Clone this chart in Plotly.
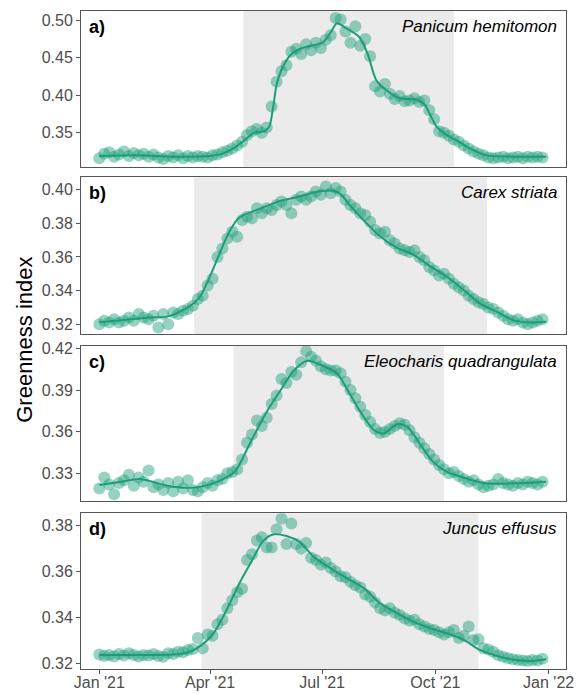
import plotly.graph_objects as go
import pandas as pd

FONT = "Liberation Sans, Arial, Helvetica, sans-serif"
GREEN = "#1b9e77"

# ---- observation dates (every 4 days from 1 Jan 2021) ----
point_dates = pd.date_range("2021-01-01", periods=91, freq="4D")

# ---- panel a: Panicum hemitomon ----
vals_a = [0.316, 0.322, 0.324, 0.318, 0.321, 0.325, 0.319, 0.323, 0.320, 0.322,
          0.318, 0.321, 0.317, 0.315, 0.319, 0.317, 0.320, 0.316, 0.319, 0.317,
          0.319, 0.318, 0.317, 0.320, 0.321, 0.324, 0.326, 0.329, 0.333, 0.338,
          0.347, 0.352, 0.355, 0.350, 0.357, 0.385, 0.418, 0.432, 0.440, 0.458,
          0.462, 0.455, 0.468, 0.460, 0.470, 0.463, 0.474, 0.480, 0.503, 0.501,
          0.485, 0.470, 0.492, 0.466, 0.475, 0.452, 0.412, 0.405, 0.415, 0.402,
          0.395, 0.399, 0.392, 0.393, 0.396, 0.391, 0.393, 0.380, 0.368, 0.352,
          0.350, 0.346, 0.341, 0.338, 0.333, 0.329, 0.325, 0.322, 0.320, 0.317,
          0.316, 0.317, 0.318, 0.316, 0.317, 0.318, 0.316, 0.318, 0.317, 0.318,
          0.317]
line_days_a = [0, 30, 60, 90, 100, 110, 118, 126, 134, 138, 141, 144, 148, 155,
               163, 172, 182, 188, 193, 200, 211, 218, 225, 233, 244, 258, 264,
               274, 282, 290, 301, 314, 336, 363]
line_vals_a = [0.319, 0.320, 0.318, 0.319, 0.322, 0.330, 0.340, 0.350, 0.352,
               0.358, 0.382, 0.414, 0.434, 0.453, 0.462, 0.466, 0.471, 0.484,
               0.496, 0.490, 0.478, 0.455, 0.420, 0.407, 0.396, 0.394, 0.388,
               0.358, 0.347, 0.340, 0.329, 0.320, 0.318, 0.318]

# ---- panel b: Carex striata ----
vals_b = [0.320, 0.322, 0.321, 0.323, 0.321, 0.322, 0.324, 0.322, 0.326, 0.324,
          0.323, 0.325, 0.318, 0.326, 0.320, 0.327, 0.326, 0.328, 0.329, 0.331,
          0.335, 0.337, 0.343, 0.347, 0.360, 0.365, 0.371, 0.375, 0.372, 0.382,
          0.384, 0.383, 0.389, 0.386, 0.389, 0.388, 0.391, 0.393, 0.391, 0.386,
          0.394, 0.396, 0.394, 0.396, 0.399, 0.397, 0.402, 0.398, 0.401, 0.399,
          0.394, 0.391, 0.389, 0.386, 0.385, 0.381, 0.376, 0.374, 0.375, 0.370,
          0.368, 0.365, 0.364, 0.363, 0.364, 0.360, 0.358, 0.354, 0.352, 0.349,
          0.350, 0.347, 0.344, 0.342, 0.340, 0.337, 0.335, 0.333, 0.332, 0.330,
          0.329, 0.327, 0.325, 0.323, 0.322, 0.323, 0.321, 0.320, 0.321, 0.322,
          0.323]
line_days_b = [0, 20, 41, 55, 66, 77, 82, 90, 98, 106, 114, 130, 147, 163, 174,
               190, 196, 204, 214, 228, 242, 255, 269, 282, 296, 309, 323, 336,
               350, 363]
line_vals_b = [0.3212, 0.3225, 0.3240, 0.3245, 0.3276, 0.3326, 0.3366, 0.3486,
               0.3626, 0.3756, 0.3836, 0.3886, 0.3934, 0.3960, 0.3984, 0.3994,
               0.3974, 0.3904, 0.3824, 0.3724, 0.3654, 0.3614, 0.3544, 0.3484,
               0.3404, 0.3324, 0.3274, 0.3224, 0.3210, 0.3214]

# ---- panel c: Eleocharis quadrangulata ----
vals_c = [0.319, 0.327, 0.322, 0.315, 0.323, 0.325, 0.329, 0.321, 0.327, 0.324,
          0.332, 0.320, 0.322, 0.318, 0.323, 0.317, 0.324, 0.319, 0.325, 0.318,
          0.317, 0.320, 0.323, 0.321, 0.325, 0.326, 0.330, 0.331, 0.333, 0.340,
          0.352, 0.358, 0.368, 0.364, 0.370, 0.380, 0.386, 0.398, 0.395, 0.403,
          0.401, 0.410, 0.418, 0.414, 0.411, 0.407, 0.405, 0.404, 0.404, 0.402,
          0.396, 0.390, 0.384, 0.378, 0.372, 0.367, 0.362, 0.359, 0.360, 0.362,
          0.364, 0.366, 0.365, 0.361, 0.356, 0.352, 0.348, 0.344, 0.340, 0.336,
          0.333, 0.330, 0.331, 0.328, 0.326, 0.324, 0.325, 0.322, 0.320, 0.321,
          0.322, 0.326, 0.323, 0.322, 0.321, 0.323, 0.322, 0.324, 0.323, 0.322,
          0.324]
line_days_c = [0, 15, 33, 45, 55, 77, 96, 110, 123, 136, 150, 158, 169, 180, 193,
               201, 212, 223, 231, 242, 250, 261, 271, 282, 298, 314, 336, 363]
line_vals_c = [0.3216, 0.3235, 0.3259, 0.3235, 0.3211, 0.3197, 0.3240, 0.3312,
               0.3528, 0.3744, 0.3936, 0.4040, 0.4110, 0.4080, 0.4020, 0.3910,
               0.3744, 0.3612, 0.3588, 0.3653, 0.3636, 0.3504, 0.3384, 0.3312,
               0.3264, 0.3228, 0.3228, 0.3240]

# ---- panel d: Juncus effusus ----
vals_d = [0.3238, 0.3232, 0.3236, 0.3230, 0.3240, 0.3234, 0.3244, 0.3236, 0.3230,
          0.3236, 0.3234, 0.3240, 0.3232, 0.3228, 0.3244, 0.3240, 0.3250, 0.3248,
          0.3258, 0.3262, 0.3310, 0.3265, 0.3325, 0.3320, 0.3370, 0.3390, 0.3440,
          0.3475, 0.3510, 0.3525, 0.3650, 0.3675, 0.3735, 0.3750, 0.3705, 0.3705,
          0.3785, 0.3830, 0.3720, 0.3810, 0.3720, 0.3700, 0.3725, 0.3660, 0.3650,
          0.3630, 0.3640, 0.3615, 0.3600, 0.3580, 0.3575, 0.3555, 0.3540, 0.3530,
          0.3500, 0.3490, 0.3465, 0.3440, 0.3430, 0.3440, 0.3420, 0.3410, 0.3395,
          0.3385, 0.3390, 0.3370, 0.3360, 0.3350, 0.3345, 0.3335, 0.3325, 0.3335,
          0.3345, 0.3310, 0.3320, 0.3360, 0.3300, 0.3305, 0.3265, 0.3260, 0.3250,
          0.3235, 0.3228, 0.3222, 0.3218, 0.3214, 0.3212, 0.3210, 0.3214, 0.3212,
          0.3220]
line_days_d = [0, 30, 60, 71, 82, 93, 103, 114, 123, 133, 141, 152, 163, 174, 188,
               201, 215, 228, 242, 255, 269, 282, 296, 309, 323, 337, 350, 363]
line_vals_d = [0.3236, 0.3236, 0.3238, 0.3246, 0.3275, 0.3333, 0.3428, 0.3551,
               0.3638, 0.3733, 0.3762, 0.3755, 0.3728, 0.3665, 0.3614, 0.3571,
               0.3527, 0.3462, 0.3418, 0.3382, 0.3353, 0.3331, 0.3302, 0.3258,
               0.3232, 0.3215, 0.3210, 0.3218]

# ---- panel metadata ----
labels = ["a)", "b)", "c)", "d)"]
species = ["Panicum hemitomon", "Carex striata", "Eleocharis quadrangulata", "Juncus effusus"]
season_start = ["2021-04-28", "2021-03-19", "2021-04-20", "2021-03-25"]
season_end = ["2021-10-16", "2021-11-12", "2021-10-08", "2021-11-05"]
y_ticks = [[0.35, 0.40, 0.45, 0.50],
           [0.32, 0.34, 0.36, 0.38, 0.40],
           [0.33, 0.36, 0.39, 0.42],
           [0.32, 0.34, 0.36, 0.38]]
y_ranges = [[0.3046, 0.5124], [0.3140, 0.4074], [0.3103, 0.4217], [0.3175, 0.3854]]
x_ticks = ["2021-01-01", "2021-04-01", "2021-07-01", "2021-10-01", "2022-01-01"]
x_ticklabels = ["Jan '21", "Apr '21", "Jul '21", "Oct '21", "Jan '22"]

all_vals = [vals_a, vals_b, vals_c, vals_d]
all_line_days = [line_days_a, line_days_b, line_days_c, line_days_d]
all_line_vals = [line_vals_a, line_vals_b, line_vals_c, line_vals_d]

# domains in paper coordinates (top to bottom)
domains = [[0.7634, 1.0], [0.5087, 0.7472], [0.2558, 0.4909], [0.0, 0.2366]]
x_range = ["2020-12-17 03:00", "2022-01-15 02:00"]

fig = go.Figure()
base = pd.Timestamp("2021-01-01")
shapes = []
annotations = []
for i in range(4):
    n = "" if i == 0 else str(i + 1)
    xa, ya = "x" + n, "y" + n
    fig.add_trace(go.Scatter(
        x=point_dates, y=all_vals[i], mode="markers", xaxis=xa, yaxis=ya,
        marker=dict(size=12, color=GREEN, opacity=0.45, line=dict(width=0)),
        showlegend=False, hoverinfo="skip"))
    ld = [base + pd.Timedelta(days=d) for d in all_line_days[i]]
    fig.add_trace(go.Scatter(
        x=ld, y=all_line_vals[i], mode="lines", xaxis=xa, yaxis=ya,
        line=dict(color=GREEN, width=2, shape="spline", smoothing=0.8),
        showlegend=False, hoverinfo="skip"))
    shapes.append(dict(type="rect", xref=xa, yref=ya + " domain",
                       x0=season_start[i], x1=season_end[i], y0=0, y1=1,
                       fillcolor="#ebebeb", line=dict(width=0), layer="below"))
    annotations.append(dict(text="<b>" + labels[i] + "</b>", xref=xa + " domain",
                            yref=ya + " domain", x=0, y=1, xanchor="left", yanchor="top",
                            xshift=6, yshift=-4, showarrow=False,
                            font=dict(family=FONT, size=18, color="black")))
    annotations.append(dict(text="<i>" + species[i] + "</i>", xref=xa + " domain",
                            yref=ya + " domain", x=1, y=1, xanchor="right", yanchor="top",
                            xshift=-7, yshift=-4, showarrow=False,
                            font=dict(family=FONT, size=17, color="black")))
    axis_common = dict(showline=True, linecolor="#555555", linewidth=1, mirror=True,
                       showgrid=False, zeroline=False, ticks="outside", ticklen=4,
                       tickcolor="#555555", automargin=False,
                       tickfont=dict(family=FONT, size=16, color="#4d4d4d"))
    fig.layout["xaxis" + n] = dict(
        axis_common, domain=[0, 1], anchor=ya, type="date", range=x_range,
        tickvals=x_ticks, ticktext=x_ticklabels,
        showticklabels=(i == 3), ticks=("outside" if i == 3 else ""),
        ticklabelstandoff=-5,
        matches=None if i == 0 else "x")
    fig.layout["yaxis" + n] = dict(
        axis_common, domain=domains[i], anchor=xa, range=y_ranges[i],
        tickvals=y_ticks[i], ticktext=["%.2f" % v for v in y_ticks[i]])

annotations.append(dict(text="Greenness index", xref="paper", yref="paper",
                        x=-0.118, y=0.5, xanchor="center", yanchor="middle",
                        textangle=-90, showarrow=False,
                        font=dict(family=FONT, size=22, color="black")))

fig.update_layout(width=583, height=695, margin=dict(l=81, r=17, t=11, b=26),
                  plot_bgcolor="white", paper_bgcolor="white",
                  shapes=shapes, annotations=annotations)
fig.write_html("out.html")
